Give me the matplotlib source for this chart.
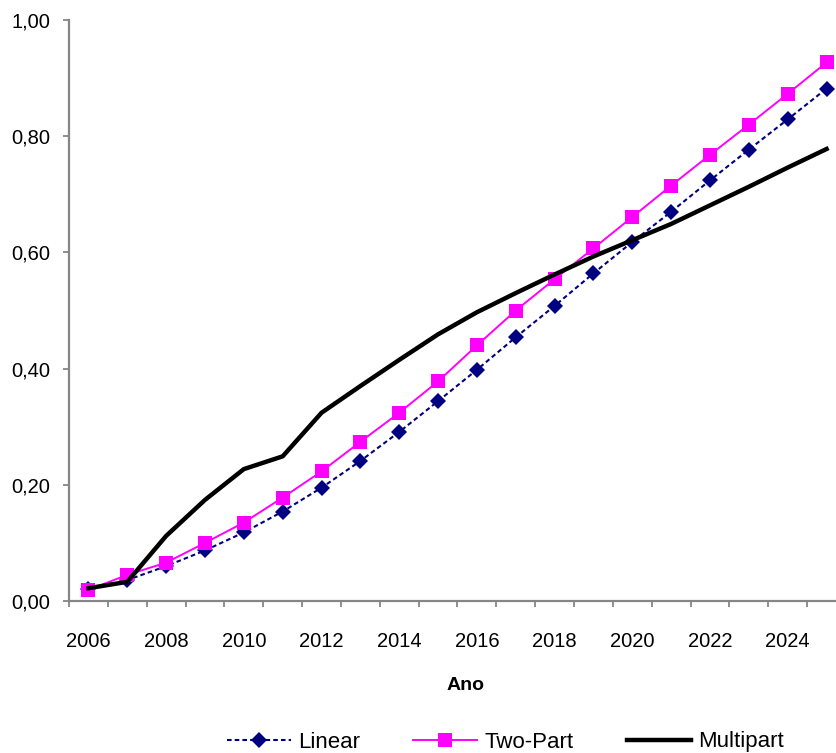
import matplotlib
matplotlib.use("Agg")
import matplotlib.pyplot as plt
import numpy as np

plt.rcParams['font.family'] = ['Liberation Sans', 'DejaVu Sans']

years = list(range(2006, 2026))
linear = [0.020, 0.036, 0.060, 0.087, 0.118, 0.154, 0.195, 0.241, 0.291, 0.344,
          0.398, 0.454, 0.508, 0.564, 0.618, 0.670, 0.724, 0.777, 0.829, 0.882]
two_part = [0.019, 0.045, 0.066, 0.100, 0.135, 0.178, 0.223, 0.274, 0.324, 0.378,
            0.440, 0.500, 0.554, 0.607, 0.661, 0.715, 0.768, 0.820, 0.873, 0.927]
multipart = [0.022, 0.033, 0.112, 0.174, 0.227, 0.249, 0.324, 0.370, 0.415, 0.459,
             0.497, 0.530, 0.562, 0.593, 0.621, 0.649, 0.681, 0.713, 0.746, 0.778]
y_ticks = [0.0, 0.2, 0.4, 0.6, 0.8, 1.0]
y_labels = ['0,00', '0,20', '0,40', '0,60', '0,80', '1,00']
x_label = 'Ano'
series_names = ['Linear', 'Two-Part', 'Multipart']

W, H = 837, 753
fig = plt.figure(figsize=(W / 100, H / 100), dpi=100)
left, right, bottom, top = 69, 846, 601, 20
ax = fig.add_axes([left / W, (H - bottom) / H, (right - left) / W, (bottom - top) / H])

x = np.arange(len(years))
ax.plot(x, linear, color='#000080', lw=1.5, dashes=(2.2, 1.5), marker='D',
        markersize=7.8, markeredgewidth=0, zorder=3, label=series_names[0])
ax.plot(x, two_part, color='#FF00FF', lw=1.4, marker='s', markersize=10.5,
        markeredgewidth=0, zorder=4, label=series_names[1])
ax.plot(x, multipart, color='black', lw=3.2, zorder=5, label=series_names[2])

ax.set_xlim(-0.5, len(years) - 0.5)
ax.set_ylim(0, 1.0)

axis_grey = '#868686'
for side in ['top', 'right']:
    ax.spines[side].set_visible(False)
for side in ['left', 'bottom']:
    ax.spines[side].set_color(axis_grey)
    ax.spines[side].set_linewidth(1.6)

# category boundaries carry the tick marks, labels sit under every other year
ax.set_xticks(np.arange(len(years) + 1) - 0.5)
ax.set_xticklabels([])
ax.set_xticks(x[::2], minor=True)
ax.set_xticklabels([str(y) for y in years[::2]], minor=True)
ax.tick_params(axis='x', which='major', direction='out', length=4, width=1.3,
               color=axis_grey)
ax.tick_params(axis='x', which='minor', length=0, pad=22, labelsize=14.5)

ax.set_yticks(y_ticks)
ax.set_yticklabels(y_labels)
ax.tick_params(axis='y', direction='out', length=4.5, width=1.3, color=axis_grey,
               pad=9, labelsize=14.5)

fig.text(466 / W, 1 - 685 / H, x_label, ha='center', va='center',
         fontsize=14, fontweight='bold')

leg = fig.legend(loc='center', bbox_to_anchor=(505 / W, 1 - 742 / H), ncol=3,
                 frameon=False, fontsize=16, handlelength=2.9, handletextpad=0.3,
                 columnspacing=2.4)

fig.savefig('out.png', dpi=100)
